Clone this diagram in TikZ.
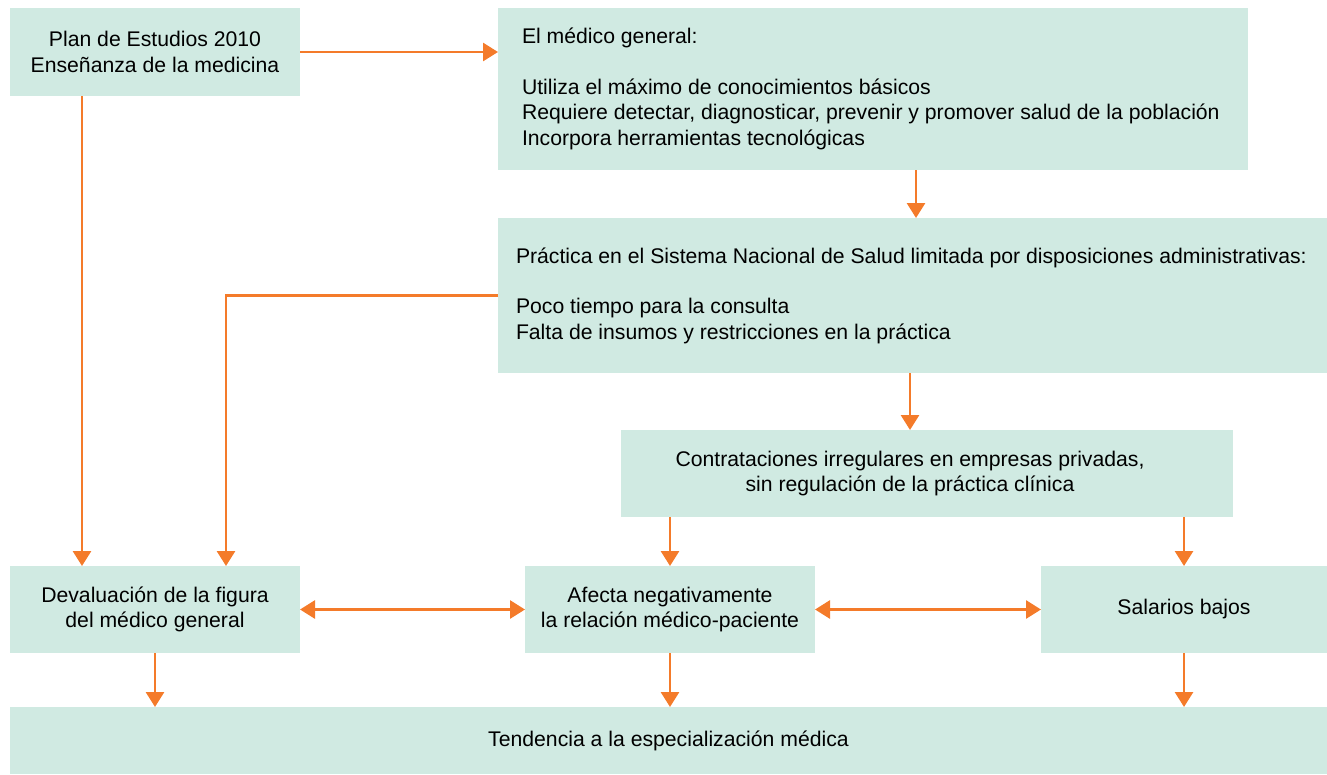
\documentclass[tikz,border=0pt]{standalone}
\usepackage{fontspec}
\setmainfont{Liberation Sans}
\usetikzlibrary{arrows.meta}
\definecolor{boxfill}{HTML}{D0EAE2}
\definecolor{arr}{HTML}{F47B2A}
\begin{document}
\begin{tikzpicture}[x=1pt,y=-1pt,
 box/.style={fill=boxfill, inner sep=0pt, outer sep=0pt, font=\fontsize{21.2}{25.5}\selectfont, align=center},
 txt/.style={inner sep=0pt, outer sep=0pt, font=\fontsize{21.2}{25.5}\selectfont, align=center},
 conn/.style={draw=arr, line width=2.8pt, -{Triangle[width=18pt,length=15pt]}},
 dconn/.style={draw=arr, line width=2.8pt, {Triangle[width=18pt,length=15pt]}-{Triangle[width=18pt,length=15pt]}}]
\useasboundingbox (0,0) rectangle (1327,774);
\node[box, minimum width=290pt, minimum height=88pt] (A) at (155,52) {Plan de Estudios 2010\\Enseñanza de la medicina};
\node[box, minimum width=750pt, minimum height=162pt] (B) at (873,89) {};
\node[txt, anchor=west, align=left] (Bt) at (522,89) {El médico general:\\[25pt]Utiliza el máximo de conocimientos básicos\\Requiere detectar, diagnosticar, prevenir y promover salud de la población\\Incorpora herramientas tecnológicas};
\node[box, minimum width=829pt, minimum height=155pt] (C) at (912.5,295.5) {};
\node[txt, anchor=west, align=left] (Ct) at (516,295.5) {Práctica en el Sistema Nacional de Salud limitada por disposiciones administrativas:\\[25pt]Poco tiempo para la consulta\\Falta de insumos y restricciones en la práctica};
\node[box, minimum width=612pt, minimum height=87pt] (D) at (927,473.5) {};
\node[txt] (Dt) at (910,473.5) {Contrataciones irregulares en empresas privadas,\\sin regulación de la práctica clínica};
\node[box, minimum width=290pt, minimum height=87pt] (E) at (155,609.5) {Devaluación de la figura\\del médico general};
\node[box, minimum width=290pt, minimum height=87pt] (F) at (670,609.5) {Afecta negativamente\\la relación médico-paciente};
\node[box, minimum width=286pt, minimum height=87pt] (G) at (1184,609.5) {Salarios bajos};
\node[box, minimum width=1317pt, minimum height=67pt] (H) at (668.5,740.5) {Tendencia a la especialización médica};
\draw[conn] (A.east) -- (A.east -| B.west);
\draw[conn] ([xshift=-73pt]A.south) -- ([xshift=-73pt]E.north);
\draw[conn] ([xshift=43pt]B.south) -- ([xshift=43pt]B.south |- C.north);
\draw[conn] (C.west) -| ([xshift=71pt]E.north);
\draw[conn] ([xshift=-2.5pt]C.south) -- ([xshift=-2.5pt]C.south |- D.north);
\draw[conn] (F.north |- D.south) -- (F.north);
\draw[conn] (G.north |- D.south) -- (G.north);
\draw[dconn] (E.east) -- (F.west);
\draw[dconn] (F.east) -- (G.west);
\draw[conn] (E.south) -- (E.south |- H.north);
\draw[conn] (F.south) -- (F.south |- H.north);
\draw[conn] (G.south) -- (G.south |- H.north);
\end{tikzpicture}
\end{document}
